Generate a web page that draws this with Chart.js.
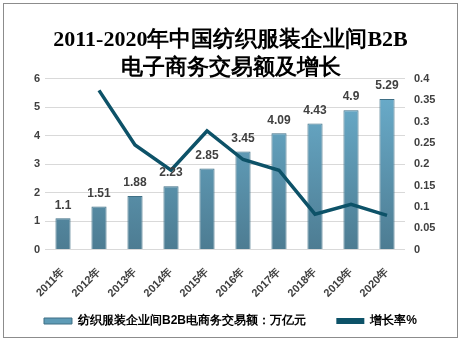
<!DOCTYPE html>
<html>
<head>
<meta charset="utf-8">
<script src="https://cdn.jsdelivr.net/npm/chart.js@4/dist/chart.umd.min.js"></script>
<style>
  html, body { margin: 0; padding: 0; background: #fff; }
  #wrap { position: absolute; left: 3px; top: 3px; width: 453px; height: 333px; border: 1px solid #8c8c8c; }
  canvas { display: block; }
</style>
</head>
<body>
<div id="wrap"><canvas id="chart" width="453" height="333"></canvas></div>
<script>
// datos
const years = ['2011年','2012年','2013年','2014年','2015年','2016年','2017年','2018年','2019年','2020年'];
const amount = [1.1, 1.51, 1.88, 2.23, 2.85, 3.45, 4.09, 4.43, 4.9, 5.29];
const growth = [null, 0.373, 0.245, 0.186, 0.278, 0.211, 0.186, 0.083, 0.106, 0.080];

const titleLines = ['2011-2020年中国纺织服装企业间B2B', '电子商务交易额及增长'];
const barName = '纺织服装企业间B2B电商务交易额：万亿元';
const lineName = '增长率%';

const tickFont = { family: 'Liberation Sans, Arial, sans-serif', size: 11, weight: 'bold' };

// gradiente de las barras
function barGradient(ctx) {
  const area = ctx.chart.chartArea;
  if (!area) return '#5e9bb6';
  const g = ctx.chart.ctx.createLinearGradient(0, area.top, 0, area.bottom);
  g.addColorStop(0, '#6cb0cf');
  g.addColorStop(1, '#4d7c92');
  return g;
}

// etiquetas encima de las barras
const valueLabels = {
  id: 'valueLabels',
  afterDatasetsDraw(chart) {
    const c = chart.ctx;
    const meta = chart.getDatasetMeta(0);
    c.save();
    c.font = 'bold 12px Liberation Sans, Arial, sans-serif';
    c.fillStyle = '#404040';
    c.textAlign = 'center';
    c.textBaseline = 'bottom';
    meta.data.forEach((bar, i) => {
      c.fillText(String(amount[i]), bar.x, bar.y - 7);
    });
    c.restore();
  }
};

const myChart = {
  type: 'bar',
  data: {
    labels: years,
    datasets: [{
      label: barName,
      data: amount,
      backgroundColor: barGradient,
      borderColor: '#3f6f85',
      borderWidth: 1,
      categoryPercentage: 1,
      barPercentage: 0.42,
      yAxisID: 'y',
      order: 1
    }, {
      type: 'line',
      label: lineName,
      data: growth,
      borderColor: '#0d5268',
      backgroundColor: '#0d5268',
      borderWidth: 3.5,
      pointRadius: 0,
      tension: 0,
      yAxisID: 'y1',
      order: 0
    }]
  },
  options: {
    responsive: false,
    animation: false,
    layout: { padding: { left: 0, right: 0, top: 4, bottom: 0 } },
    plugins: {
      title: {
        display: true,
        text: titleLines,
        color: '#000',
        font: { family: 'Liberation Serif, DejaVu Serif, serif', size: 22, weight: 'bold', lineHeight: 1.27 },
        padding: { top: 18, bottom: -3 }
      },
      legend: {
        position: 'bottom',
        labels: {
          color: '#000',
          font: { family: 'Liberation Sans, Arial, sans-serif', size: 12, weight: 'bold' },
          boxWidth: 28,
          boxHeight: 6,
          padding: 7,
          sort: (a, b) => a.datasetIndex - b.datasetIndex,
          generateLabels: (chart) => {
            const items = Chart.defaults.plugins.legend.labels.generateLabels(chart);
            items.forEach(it => {
              if (it.datasetIndex === 0) {
                it.fillStyle = '#5e9bb6'; it.lineWidth = 1;
                it.text = it.text + '       ';
              } else { it.lineWidth = 0; }
            });
            return items;
          }
        }
      },
      tooltip: { enabled: false }
    },
    scales: {
      x: {
        grid: { display: false },
        border: { display: false },
        ticks: { color: '#404040', font: tickFont, maxRotation: 45, minRotation: 45, padding: 8 }
      },
      y: {
        position: 'left',
        min: 0, max: 6,
        afterFit: s => { s.width = 41; },
        ticks: { stepSize: 1, color: '#404040', font: tickFont, padding: 5 },
        grid: { color: '#d9d9d9', drawTicks: false },
        border: { display: false }
      },
      y1: {
        position: 'right',
        min: 0, max: 0.4,
        afterFit: s => { s.width = 52; },
        ticks: { stepSize: 0.05, autoSkip: false, color: '#404040', font: tickFont, padding: 9,
                 callback: v => Math.round(v * 100) / 100 },
        grid: { display: false, drawTicks: false },
        border: { display: false }
      }
    }
  },
  plugins: [valueLabels]
};

const canvas = document.getElementById('chart');
window.chart1 = new Chart(canvas, myChart);
</script>
</body>
</html>
